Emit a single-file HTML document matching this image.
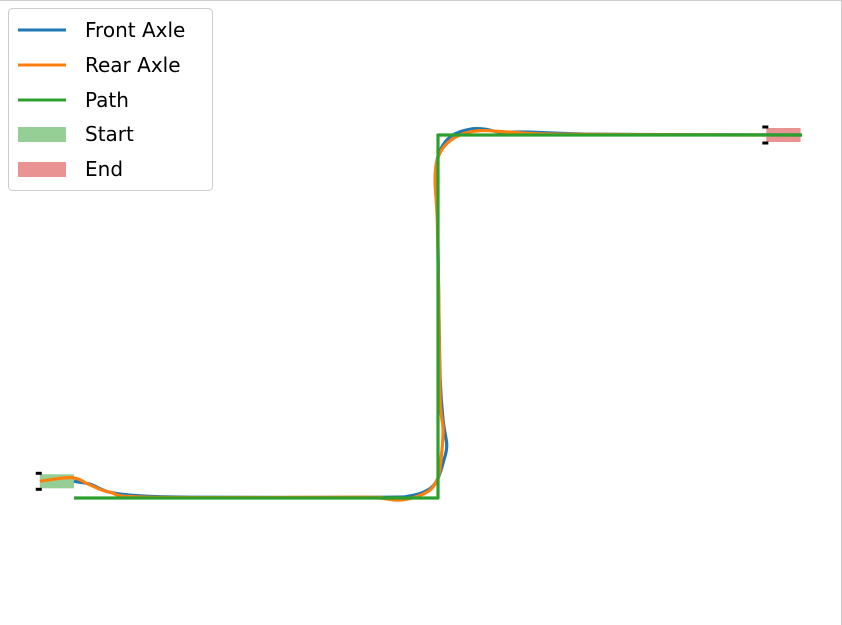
<!DOCTYPE html>
<html><head><meta charset="utf-8"><style>
html,body{margin:0;padding:0;background:#fff;}
svg{display:block;font-family:"DejaVu Sans","Liberation Sans",sans-serif;}
</style></head><body>
<svg width="842" height="625">
<line x1="0" y1="0.5" x2="842" y2="0.5" stroke="#ccc"/>
<line x1="841.5" y1="0" x2="841.5" y2="625" stroke="#ccc"/>
<g id="plot"></g>
<g>
<rect x="8.5" y="8.5" width="204" height="182" rx="4" fill="#fff" fill-opacity="0.8" stroke="#ccc"/>
<line x1="18" y1="30" x2="66" y2="30" stroke="#1f77b4" stroke-width="3"/>
<text x="85" y="37" font-size="20">Front Axle</text>
<line x1="18" y1="65" x2="66" y2="65" stroke="#ff7f0e" stroke-width="3"/>
<text x="85" y="72" font-size="20">Rear Axle</text>
<line x1="18" y1="100" x2="66" y2="100" stroke="#2ca02c" stroke-width="3"/>
<text x="85" y="107" font-size="20">Path</text>
<rect x="18" y="127" width="48" height="15" fill="#2ca02c" fill-opacity="0.5"/>
<text x="85" y="141" font-size="20">Start</text>
<rect x="18" y="162" width="48" height="15" fill="#d62728" fill-opacity="0.5"/>
<text x="85" y="176" font-size="20">End</text>
</g>
</svg>
<script>
const pathX=[0,50,50,100];
const pathY=[0,0,50,50];
const frontX=[0,2.2,4.9,9.1,17.3,42.0,46.2,48.6,49.9,50.8,51.2,50.7,50.3,50.1,49.9,49.7,50.3,51.9,54.4,56.5,58.5,62.6,72.3,100];
const frontY=[2.3,1.9,0.8,0.3,0.1,0.1,0.3,1.1,2.5,5.2,7.3,10.7,16.3,27.3,41.0,45.2,47.9,49.9,50.8,50.8,50.4,50.4,50.1,50];
const rearX=[-4.7,-0.3,2.2,4.9,10.4,39.3,42.0,44.5,46.8,48.9,50.0,50.4,50.7,50.3,50.1,49.9,49.6,49.9,51.0,53.0,55.8,59.9,66.8,95.1];
const rearY=[2.3,2.8,1.8,0.8,0.1,0.1,0,-0.3,0.1,1.1,2.8,5.2,9.4,13.5,27.3,38.3,43.8,46.6,48.6,50.0,50.6,50.4,50.1,50];
const startPose=[-4.7,2.3];
const endPose=[95.1,50];
const carLen=4.7;
const sx=v=>74+v*7.28;
const sy=v=>498-v*7.26;
const NS='http://www.w3.org/2000/svg';
const g=document.getElementById('plot');
function smooth(xs,ys){
  const p=xs.map((x,i)=>[sx(x),sy(ys[i])]);
  let d='M'+p[0][0]+','+p[0][1];
  for(let i=0;i<p.length-1;i++){
    const p0=p[Math.max(0,i-1)],p1=p[i],p2=p[i+1],p3=p[Math.min(p.length-1,i+2)];
    const c1=[p1[0]+(p2[0]-p0[0])/6,p1[1]+(p2[1]-p0[1])/6];
    const c2=[p2[0]-(p3[0]-p1[0])/6,p2[1]-(p3[1]-p1[1])/6];
    d+=' C'+c1[0]+','+c1[1]+' '+c2[0]+','+c2[1]+' '+p2[0]+','+p2[1];
  }
  return d;
}
function car(pose,color,name){
  const r=document.createElementNS(NS,'rect');
  r.setAttribute('x',sx(pose[0]));r.setAttribute('y',sy(pose[1])-7);
  r.setAttribute('width',carLen*7.28);r.setAttribute('height',14);
  r.setAttribute('fill',color);r.setAttribute('fill-opacity','0.5');
  
  
  g.appendChild(r);
  [-8,8].forEach(o=>{
    const w=document.createElementNS(NS,'rect');
    w.setAttribute('x',sx(pose[0])-4);w.setAttribute('y',sy(pose[1])+o-1.5);
    w.setAttribute('width',6);w.setAttribute('height',3);w.setAttribute('fill','#000');
    
    
    g.appendChild(w);
  });
}
car(startPose,'#2ca02c','start-car');
car(endPose,'#d62728','end-car');
function line(d,color,name){
  const p=document.createElementNS(NS,'path');
  p.setAttribute('d',d);p.setAttribute('fill','none');p.setAttribute('stroke',color);
  p.setAttribute('stroke-width','3.2');p.setAttribute('stroke-linejoin','round');
  
  
  g.appendChild(p);
}
line(smooth(frontX,frontY),'#1f77b4','front-axle-line');
line(smooth(rearX,rearY),'#ff7f0e','rear-axle-line');
line('M'+pathX.map((x,i)=>sx(x)+','+sy(pathY[i])).join(' L'),'#2ca02c','path-line');
</script>
</body></html>
